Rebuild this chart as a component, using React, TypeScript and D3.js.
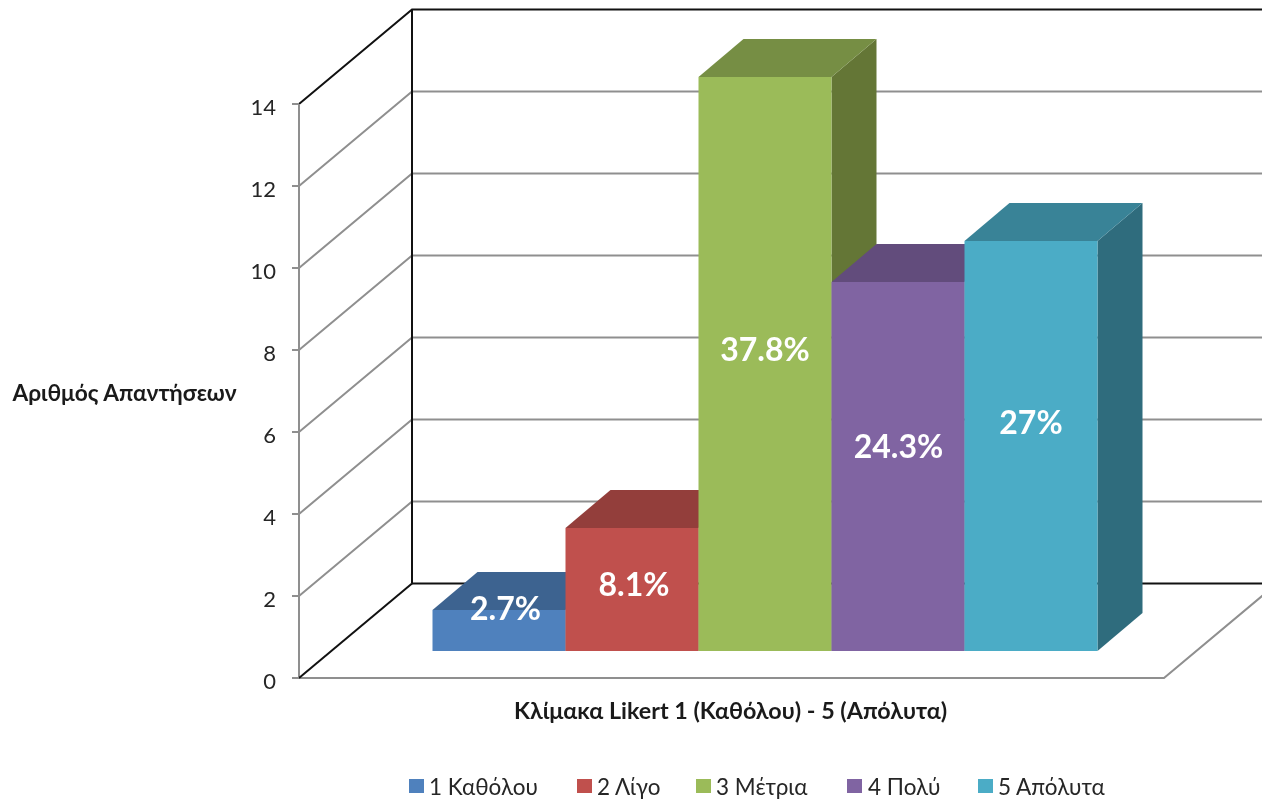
import React from "react";
import * as d3 from "d3";

const categories = ["1 Καθόλου", "2 Λίγο", "3 Μέτρια", "4 Πολύ", "5 Απόλυτα"];
const values = [1, 3, 14, 9, 10];
const labels = ["2.7%", "8.1%", "37.8%", "24.3%", "27%"];
const ticks = [0, 2, 4, 6, 8, 10, 12, 14];
const frontColors = ["#4f81bd", "#c0504d", "#9bbb59", "#8064a2", "#4bacc6"];
const topColors = ["#3d6390", "#933e3b", "#768e44", "#624c7c", "#398397"];
const sideColors = ["#335476", "#7a3331", "#647636", "#513f67", "#2f6c7d"];
const legendX = [409, 577, 696, 847, 978];
const legendTextX = [429, 597, 716, 868, 998];
const labelY = [609, 585, 350, 447, 423];
const labelDx = [6.5, 2, 0, 0.5, 0];

const FONT = "Lato, 'Open Sans', 'Noto Sans', sans-serif";
const y = d3.scaleLinear().domain([0, 14]).range([678, 104]);
const barH = d3.scaleLinear().domain([0, 14]).range([0, 574]);
const x = d3.scaleBand().domain(categories).range([432.5, 1097.5]).padding(0);
const wallDx = 113, wallDy = 94.5;
const barDx = 45, barDy = 38;
const barBase = 651;
const floorRight = 1164;
const GRID = "#8f8f8f";
const DARK = "#111";

export default function App() {
  const w = x.bandwidth();
  return (
    <svg width={1262} height={799} viewBox="0 0 1262 799"
      style={{ position: "absolute", left: 0, top: 0, background: "#fff" }} fontFamily={FONT}>
      <g style={{ filter: "blur(0.45px)" }}>
        <rect x={0} y={0} width={1262} height={799} fill="#fff" />
        {ticks.filter(t => t > 0 && t < 14).map(t => (
          <path key={t} stroke={GRID} strokeWidth={2} fill="none"
            d={`M${299},${y(t)}L${299 + wallDx},${y(t) - wallDy}L1262,${y(t) - wallDy}`} />
        ))}
        <path d={`M${299},${y(14)}L${299 + wallDx},${y(14) - wallDy}L1262,${y(14) - wallDy}`} fill="none" stroke={DARK} strokeWidth={2} />
        <path d={`M${299 + wallDx},${y(14) - wallDy}V${y(0) - wallDy}`} fill="none" stroke={DARK} strokeWidth={2} />
        <path d={`M${299 + wallDx},${y(0) - wallDy}H1262`} fill="none" stroke={DARK} strokeWidth={2} />
        <path d={`M293,${y(0)}H${floorRight}L${floorRight + wallDx},${y(0) - wallDy}`} fill="none" stroke={GRID} strokeWidth={2} />
        <path d={`M${299},${y(0)}V${y(14)}`} fill="none" stroke={GRID} strokeWidth={2} />
        <path d={`M${299},${y(0)}L${299 + wallDx},${y(0) - wallDy}`} fill="none" stroke={DARK} strokeWidth={2} />
        {ticks.map(t => (
          <g key={t}>
            <line x1={292} x2={299} y1={y(t)} y2={y(t)} stroke={GRID} strokeWidth={2} />
            <text x={276} y={y(t) + 11} fontSize={22} fill="#262626" textAnchor="end">{t}</text>
          </g>
        ))}
        {categories.map((c, i) => {
          const x0 = x(c)!;
          const top = barBase - barH(values[i]);
          return (
            <g key={c}>
              <path d={`M${x0 + w},${barBase}L${x0 + w + barDx},${barBase - barDy}V${top - barDy}L${x0 + w},${top}Z`} fill={sideColors[i]} />
              <path d={`M${x0},${top}L${x0 + barDx},${top - barDy}H${x0 + w + barDx}L${x0 + w},${top}Z`} fill={topColors[i]} />
            </g>
          );
        })}
        {categories.map((c, i) => {
          const h = barH(values[i]);
          return <rect key={c} x={x(c)!} y={barBase - h} width={w} height={h} fill={frontColors[i]} />;
        })}
        {categories.map((c, i) => (
          <text key={c} x={x(c)! + w / 2 + labelDx[i]} y={labelY[i] + 11} fontSize={32} fontWeight={700} fill="#fff" textAnchor="middle">
            {labels[i]}
          </text>
        ))}
        <text x={124.5} y={401} fontSize={22.7} fontWeight={700} fill="#1a1a1a" textAnchor="middle">Αριθμός Απαντήσεων</text>
        <text x={730.5} y={719} fontSize={23.3} fontWeight={700} fill="#1a1a1a" textAnchor="middle">Κλίμακα Likert 1 (Καθόλου) - 5 (Απόλυτα)</text>
        {categories.map((c, i) => (
          <g key={c}>
            <rect x={legendX[i]} y={779} width={15} height={14} fill={frontColors[i]} />
            <text x={legendTextX[i]} y={795} fontSize={22.5} fill="#262626">{c}</text>
          </g>
        ))}
      </g>
    </svg>
  );
}
